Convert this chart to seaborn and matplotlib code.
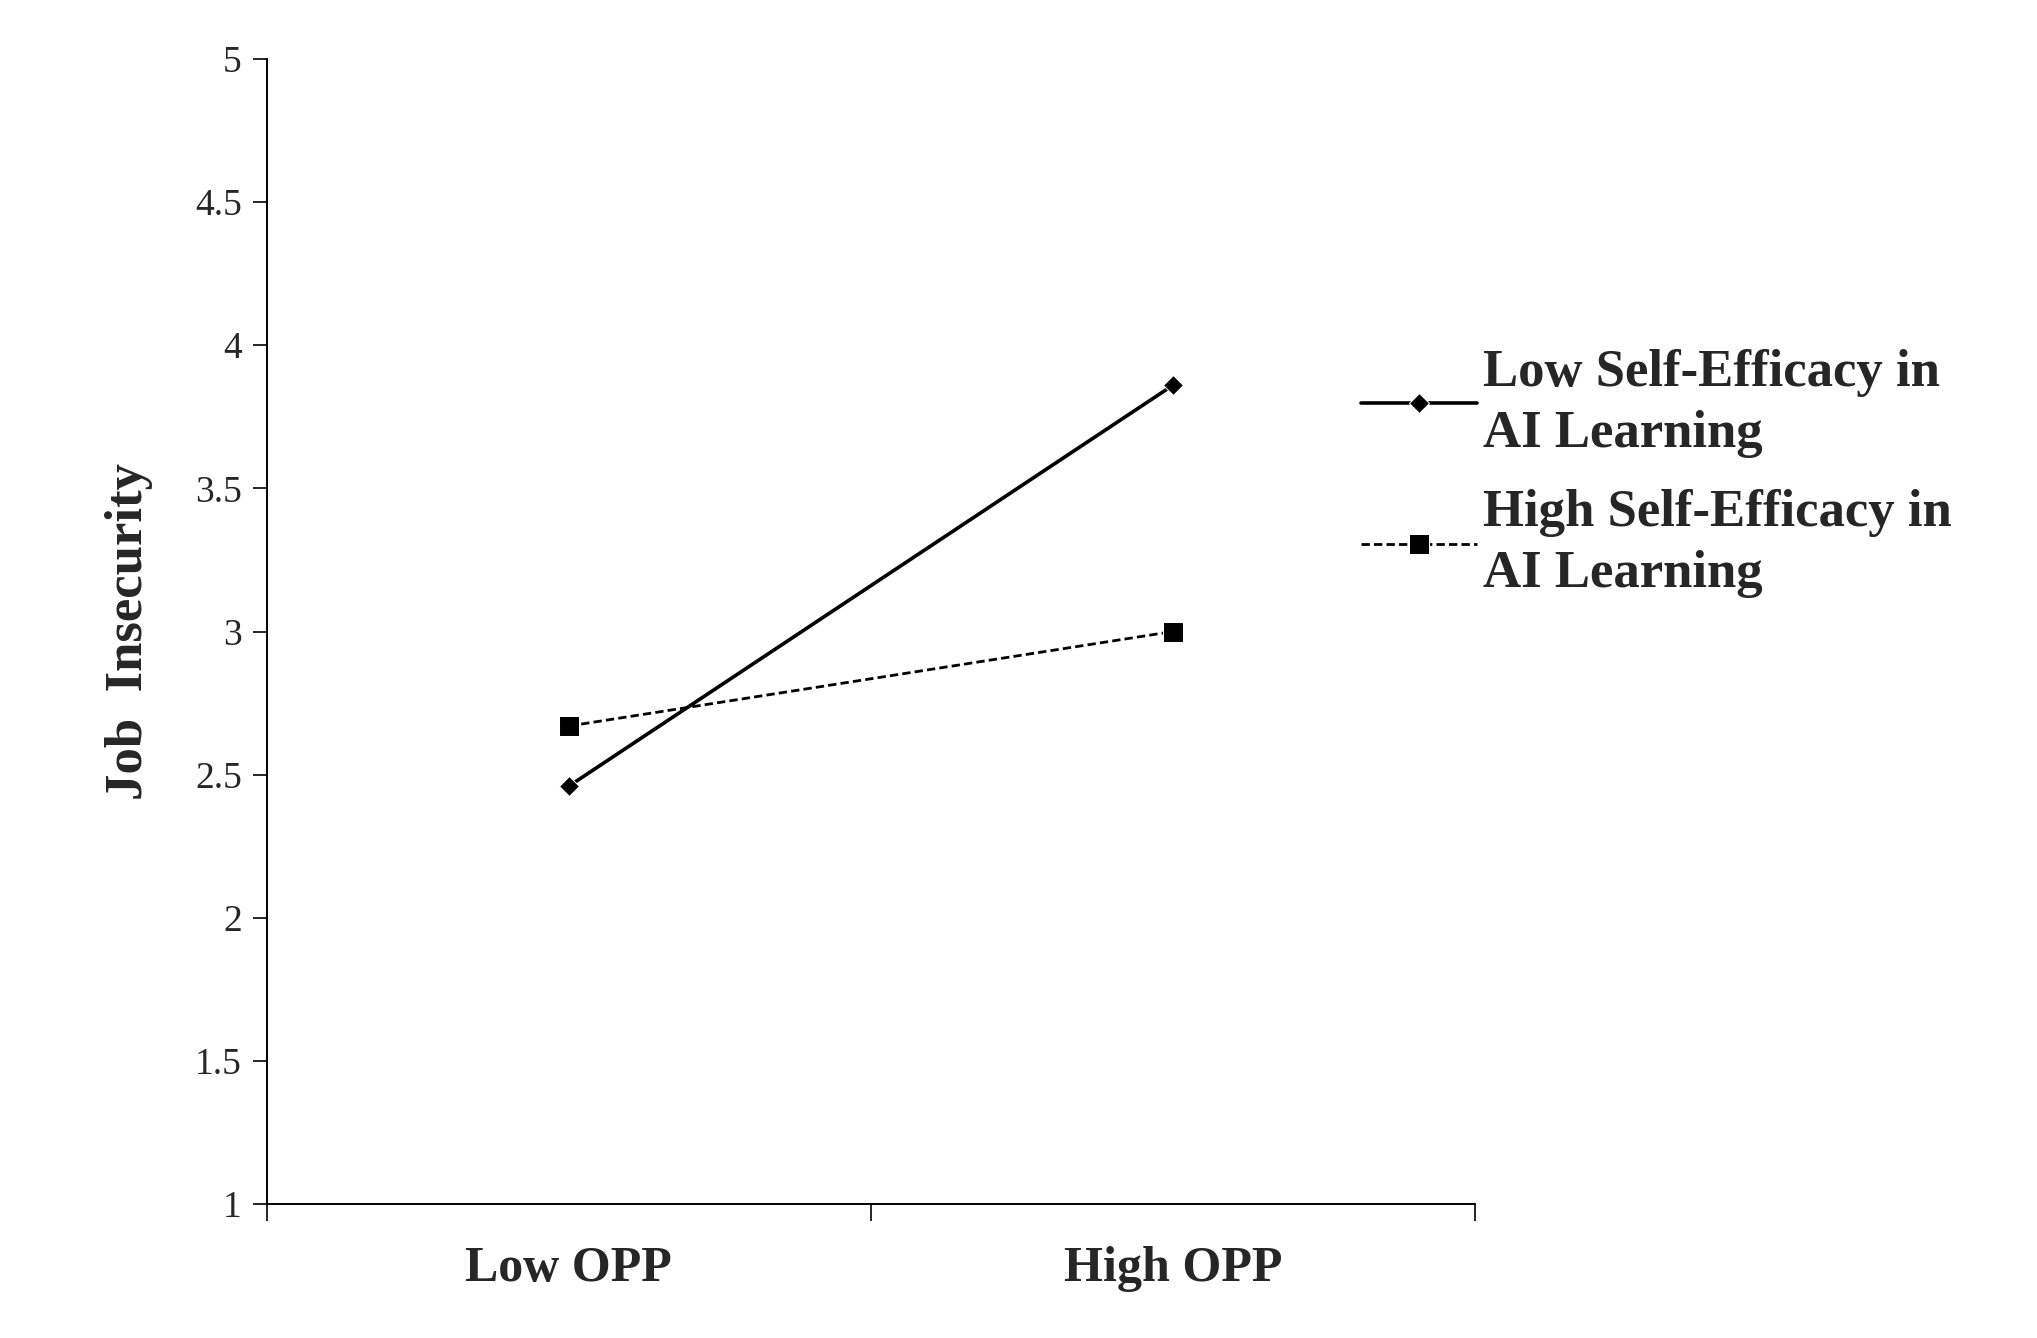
import matplotlib
matplotlib.use("Agg")
import matplotlib.pyplot as plt
import seaborn as sns
import pandas as pd

categories = ["Low OPP", "High OPP"]
series_names = ["Low Self-Efficacy in\nAI Learning", "High Self-Efficacy in\nAI Learning"]
low_se = [2.46, 3.86]
high_se = [2.67, 3.00]
yticks = [1, 1.5, 2, 2.5, 3, 3.5, 4, 4.5, 5]

sns.set_style("white")
plt.rcParams['font.family'] = ['Liberation Serif', 'DejaVu Serif']

df = pd.DataFrame({
    "x": [0.5, 1.5, 0.5, 1.5],
    "y": low_se + high_se,
    "series": [series_names[0]] * 2 + [series_names[1]] * 2,
})

fig = plt.figure(figsize=(20.37, 13.38), dpi=100)
ax = fig.add_axes([0.131, 0.100, 0.593, 0.856])
sns.lineplot(data=df, x="x", y="y", hue="series", style="series",
             palette=["black", "black"], dashes=[(None, None), (3, 1.5)],
             markers=["D", "s"], markersize=14, linewidth=2.6, ax=ax, legend=False)
ax.lines[0].set_markersize(10)
ax.lines[1].set_linewidth(2)

ax.set_xlim(0, 2)
ax.set_ylim(1, 5)
ax.set_xticks([0, 1, 2])
ax.set_xticklabels([])
ax.set_xticks([0.5, 1.5], minor=True)
ax.set_xticklabels(categories, minor=True, fontsize=36, fontweight="bold")
ax.tick_params(axis="x", which="minor", length=0, pad=30)
ax.tick_params(axis="x", which="major", length=12, direction="out", width=1.4, bottom=True)
ax.set_yticks(yticks)
ax.set_yticklabels([f"{v:g}" for v in yticks], fontsize=27)
ax.tick_params(axis="y", length=10, direction="out", width=1.4, left=True, pad=8)
ax.set_xlabel("")
ax.set_ylabel("Job  Insecurity", fontsize=38, fontweight="bold", labelpad=30)
for s in ["top", "right"]:
    ax.spines[s].set_visible(False)
for s in ["left", "bottom"]:
    ax.spines[s].set_color("black")
    ax.spines[s].set_linewidth(1.4)

handles = [ax.lines[0], ax.lines[1]]
fig.legend(handles, series_names, loc="upper left", bbox_to_anchor=(0.645, 0.775),
           frameon=False, prop={"size": 38, "weight": "bold"}, handlelength=2.2,
           handletextpad=0.1, labelspacing=0.6)
for t in fig.legends[0].get_texts():
    t.set_linespacing(1.35)

fig.savefig("out.png", dpi=100)
